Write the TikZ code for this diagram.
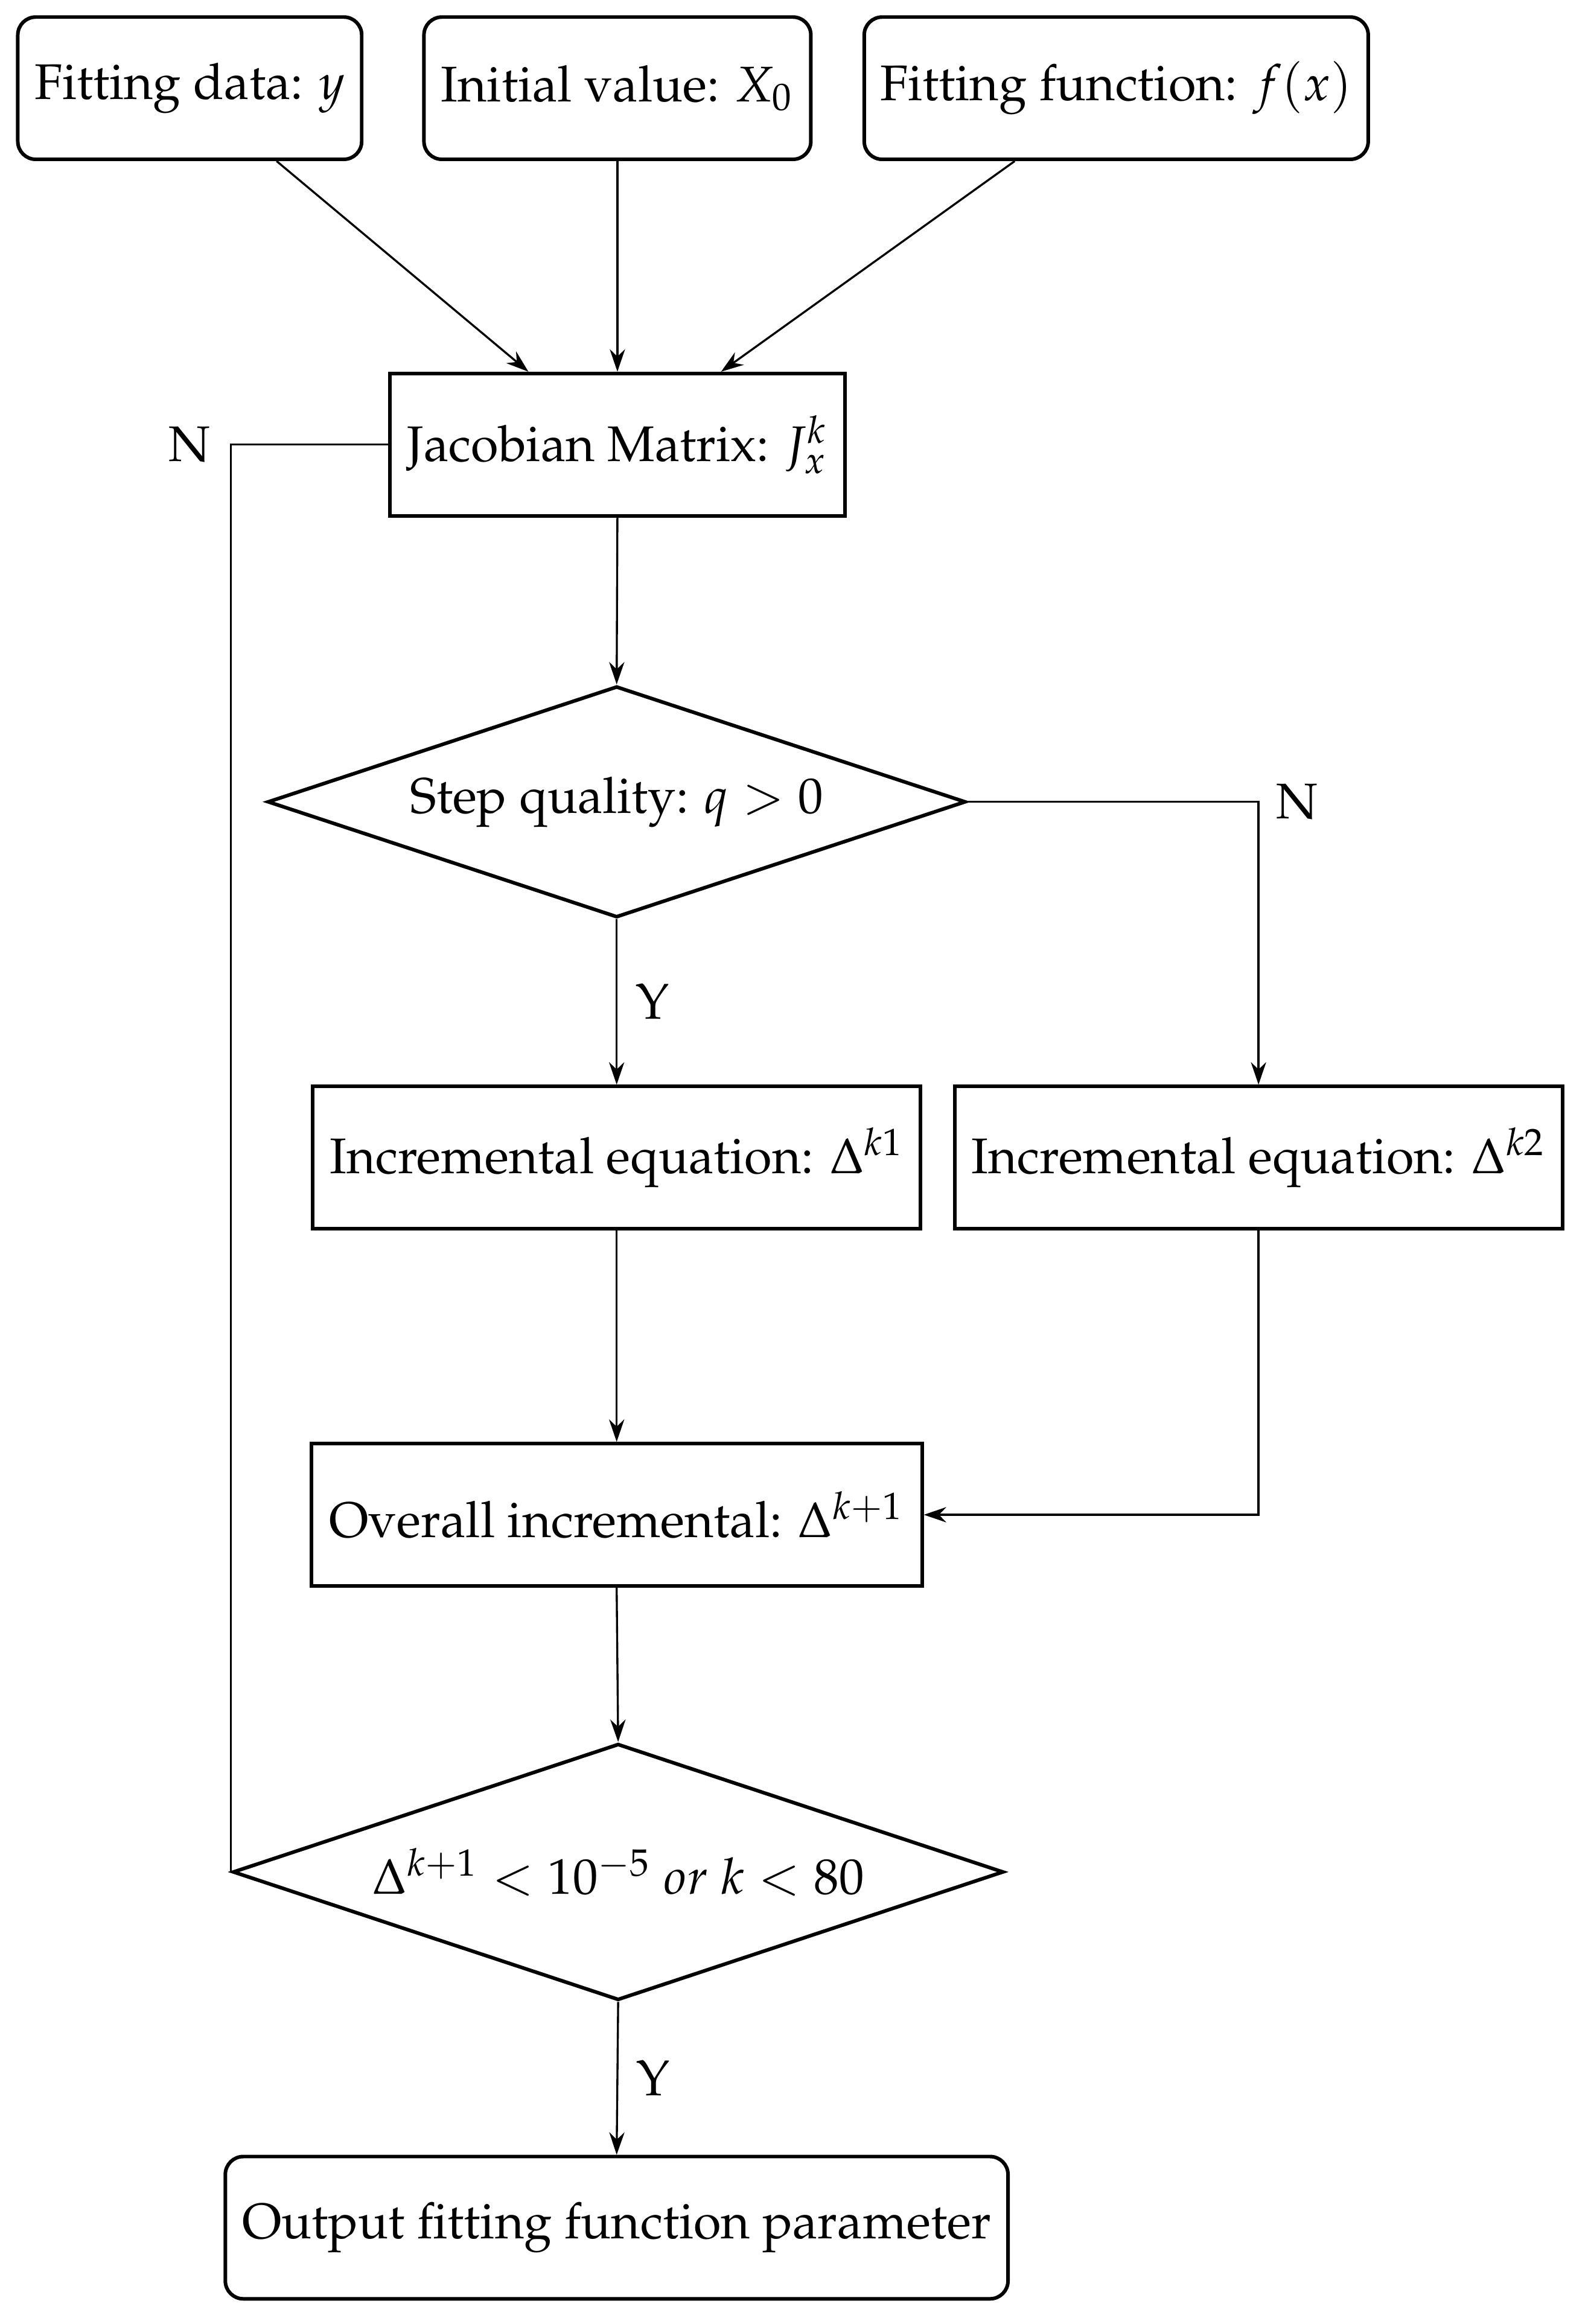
\documentclass[tikz,border=0pt]{standalone}
\usepackage[T1]{fontenc}
\usepackage{mathpazo}
\usetikzlibrary{shapes.geometric,arrows.meta,calc}
\begin{document}
\begin{tikzpicture}[x=0.33pt,y=-0.33pt,
  font=\fontsize{11.15}{13.4}\selectfont,
  box/.style={draw,line width=0.8pt,inner sep=0pt,minimum height=96*0.33pt},
  rbox/.style={box,rounded corners=4pt},
  dec/.style={draw,line width=0.8pt,diamond,inner sep=0pt,aspect=3},
  conn/.style={line width=0.45pt},
  arr/.style={conn,-{Stealth[length=5pt,width=3.4pt]}},
  lab/.style={inner sep=0pt}]
\useasboundingbox (0,0) rectangle (1073,1568);
\node[rbox,minimum width=232*0.33pt] (b1) at (128,59.5) {Fitting data: $y$};
\node[rbox,minimum width=261*0.33pt] (b2) at (416.5,59.5) {Initial value: $X_0$};
\node[rbox,minimum width=340*0.33pt] (b3) at (753,59.5) {Fitting function: $f(x)$};
\node[box,minimum width=307*0.33pt] (jac) at (416.5,300) {Jacobian Matrix: $J_x^k$};
\node[dec,minimum width=471*0.33pt,minimum height=156*0.33pt] (d1) at (416,541) {Step quality: $q>0$};
\node[box,minimum width=410*0.33pt] (i1) at (416,781) {Incremental equation: $\Delta^{k1}$};
\node[box,minimum width=410*0.33pt] (i2) at (849,781) {Incremental equation: $\Delta^{k2}$};
\node[box,minimum width=412*0.33pt] (ov) at (416,1022) {Overall incremental: $\Delta^{k+1}$};
\node[dec,minimum width=520*0.33pt,minimum height=173*0.33pt] (d2) at (417,1263) {$\Delta^{k+1}<10^{-5}\ or\ k<80$};
\node[rbox,minimum width=528*0.33pt] (out) at (416,1503) {Output fitting function parameter};
\draw[arr] ($(b1.south west)!0.75!(b1.south east)$) -- ($(jac.north west)!0.306!(jac.north east)$);
\draw[arr] (b2.south) -- (jac.north);
\draw[arr] ($(b3.south west)!0.3!(b3.south east)$) -- ($(jac.north west)!0.726!(jac.north east)$);
\draw[arr] (jac.south) -- (d1.north);
\draw[arr] (d1.south) -- node[lab,right=4pt,pos=0.5]{Y} (i1.north);
\draw[arr] (d1.east) -| (i2.north);
\node[lab] (nr) at (875,541) {N};
\draw[arr] (i1.south) -- (ov.north);
\draw[arr] (i2.south) |- (ov.east);
\draw[arr] (ov.south) -- (d2.north);
\draw[conn] (d2.west) |- (jac.west);
\node[lab] (nl) at (128,300) {N};
\draw[arr] (d2.south) -- node[lab,right=4pt,pos=0.5]{Y} (out.north);
\end{tikzpicture}
\end{document}
